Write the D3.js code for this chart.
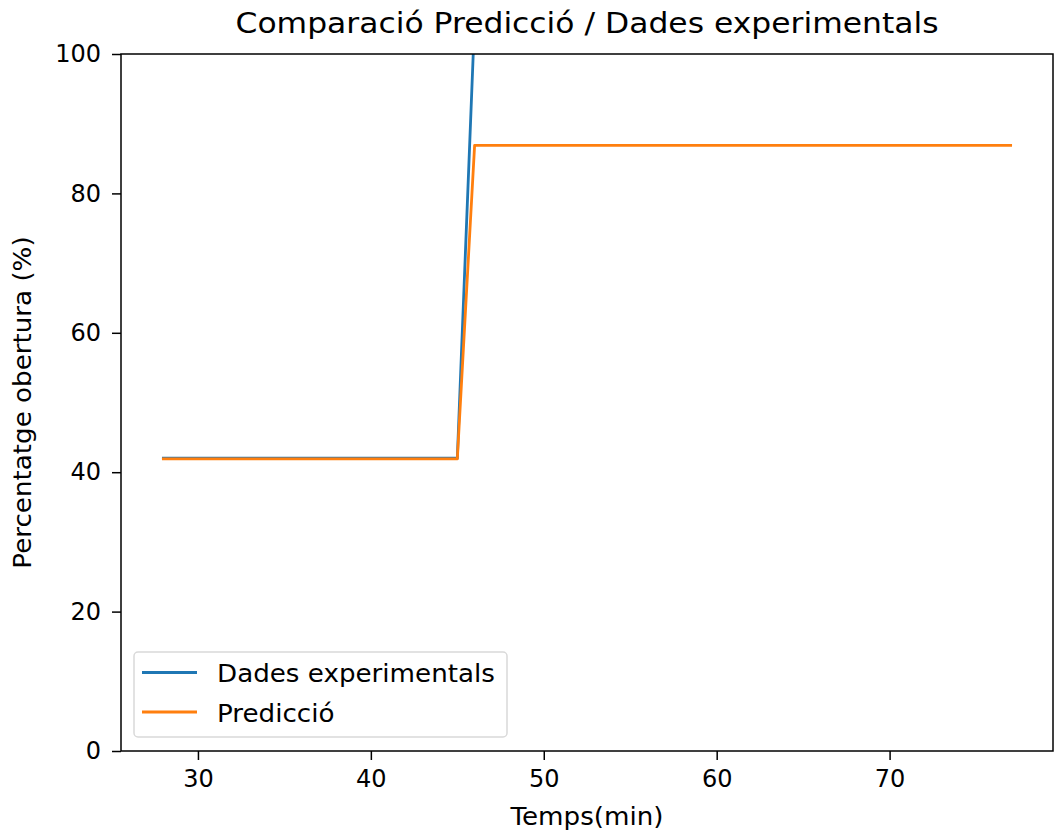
<!DOCTYPE html>
<html>
<head>
<meta charset="utf-8">
<script src="https://cdn.jsdelivr.net/npm/d3@7"></script>
<style>
  body { margin: 0; background: #fff; }
  svg text { font-family: "DejaVu Sans", sans-serif; fill: #000; }
</style>
</head>
<body>
<svg id="chart" width="1055" height="832"></svg>
<script>
// minutes on the x axis
const minutes = [28, 29, 30, 31, 32, 33, 34, 35, 36, 37, 38, 39, 40, 41, 42, 43, 44, 45,
                 46, 47, 48, 49, 50, 51, 52, 53, 54, 55, 56, 57, 58, 59, 60, 61, 62, 63,
                 64, 65, 66, 67, 68, 69, 70, 71, 72, 73, 74, 75, 76, 77];
// measured opening (%) - goes off the top of the axes after minute 45
const experimental = [42, 42, 42, 42, 42, 42, 42, 42, 42, 42, 42, 42, 42, 42, 42, 42, 42, 42,
                      105, 105, 105, 105, 105, 105, 105, 105, 105, 105, 105, 105, 105, 105, 105, 105, 105, 105,
                      105, 105, 105, 105, 105, 105, 105, 105, 105, 105, 105, 105, 105, 105];
// predicted opening (%)
const prediction = [41.9, 41.9, 41.9, 41.9, 41.9, 41.9, 41.9, 41.9, 41.9, 41.9, 41.9, 41.9, 41.9, 41.9, 41.9, 41.9, 41.9, 41.9,
                    86.9, 86.9, 86.9, 86.9, 86.9, 86.9, 86.9, 86.9, 86.9, 86.9, 86.9, 86.9, 86.9, 86.9, 86.9, 86.9, 86.9, 86.9,
                    86.9, 86.9, 86.9, 86.9, 86.9, 86.9, 86.9, 86.9, 86.9, 86.9, 86.9, 86.9, 86.9, 86.9];
const xTickVals = [30, 40, 50, 60, 70];
const yTickVals = [0, 20, 40, 60, 80, 100];
const seriesNames = ["Dades experimentals", "Predicció"];
const seriesColors = ["#1f77b4", "#ff7f0e"];

// text in the reference runs a bit wider than DejaVu in the browser
const stretch = 1.09;

let svg = d3.select('#chart'),
    margin = {top: 54, right: 2, bottom: 81, left: 121};
let width = 1055 - margin.left - margin.right,
    height = 832 - margin.top - margin.bottom;

// matplotlib-like 5% padding on x
let xMin = d3.min(minutes), xMax = d3.max(minutes), pad = (xMax - xMin) * 0.05;
let xScale = d3.scaleLinear().domain([xMin - pad, xMax + pad]).range([0, width]);
let yScale = d3.scaleLinear().domain([0, 100]).range([height, 0]);

let g = svg.append("g").attr("transform", `translate(${margin.left},${margin.top})`);

g.append("clipPath").attr("id", "clip")
  .append("rect").attr("width", width).attr("height", height);

let line = d3.line().x((d, i) => xScale(minutes[i])).y(d => yScale(d));

[experimental, prediction].forEach(function(vals, k){
  g.append("path")
    .datum(vals)
    .attr("clip-path", "url(#clip)")
    .attr("fill", "none")
    .attr("stroke", seriesColors[k])
    .attr("stroke-width", 2.8)
    .attr("stroke-linejoin", "round")
    .attr("stroke-linecap", "square")
    .attr("d", line);
});

let xAxis = d3.axisBottom(xScale).tickValues(xTickVals).tickSize(9).tickPadding(10).tickSizeOuter(0);
let yAxis = d3.axisLeft(yScale).tickValues(yTickVals).tickSize(9).tickPadding(11).tickSizeOuter(0);

g.append("g").attr("class", "axis x-axis")
  .attr("transform", `translate(0,${height})`)
  .call(xAxis);
g.append("g").attr("class", "axis y-axis")
  .call(yAxis);

g.selectAll(".axis .domain").remove();
g.selectAll(".axis text").style("font-size", "24px").attr("fill", "#000");
g.selectAll(".axis line").attr("stroke", "#000").attr("stroke-width", 1.5);

// spines
g.append("rect")
  .attr("width", width).attr("height", height)
  .attr("fill", "none").attr("stroke", "#000").attr("stroke-width", 1.5);

svg.append("text")
  .attr("transform", `translate(${margin.left + width / 2},33) scale(${stretch},1)`)
  .attr("text-anchor", "middle")
  .style("font-size", "28.8px")
  .text("Comparació Predicció / Dades experimentals");

svg.append("text")
  .attr("transform", `translate(${margin.left + width / 2},825) scale(${stretch},1)`)
  .attr("text-anchor", "middle")
  .style("font-size", "24px")
  .text("Temps(min)");

svg.append("text")
  .attr("transform", `translate(31,${margin.top + height / 2}) rotate(-90) scale(${stretch},1)`)
  .attr("text-anchor", "middle")
  .style("font-size", "24px")
  .text("Percentatge obertura (%)");

// legend
let lg = svg.append("g").attr("transform", "translate(134,652)");
lg.append("rect")
  .attr("width", 373).attr("height", 85).attr("rx", 4)
  .attr("fill", "#fff").attr("fill-opacity", 0.8)
  .attr("stroke", "#d9d9d9").attr("stroke-width", 1.5);
seriesNames.forEach(function(name, k){
  let y = 20.5 + k * 39.5;
  lg.append("line")
    .attr("x1", 8).attr("x2", 63).attr("y1", y).attr("y2", y)
    .attr("stroke", seriesColors[k]).attr("stroke-width", 2.8);
  lg.append("text")
    .attr("transform", `translate(83,${y + 9.5}) scale(${stretch},1)`)
    .style("font-size", "24px")
    .text(name);
});
</script>
</body>
</html>
